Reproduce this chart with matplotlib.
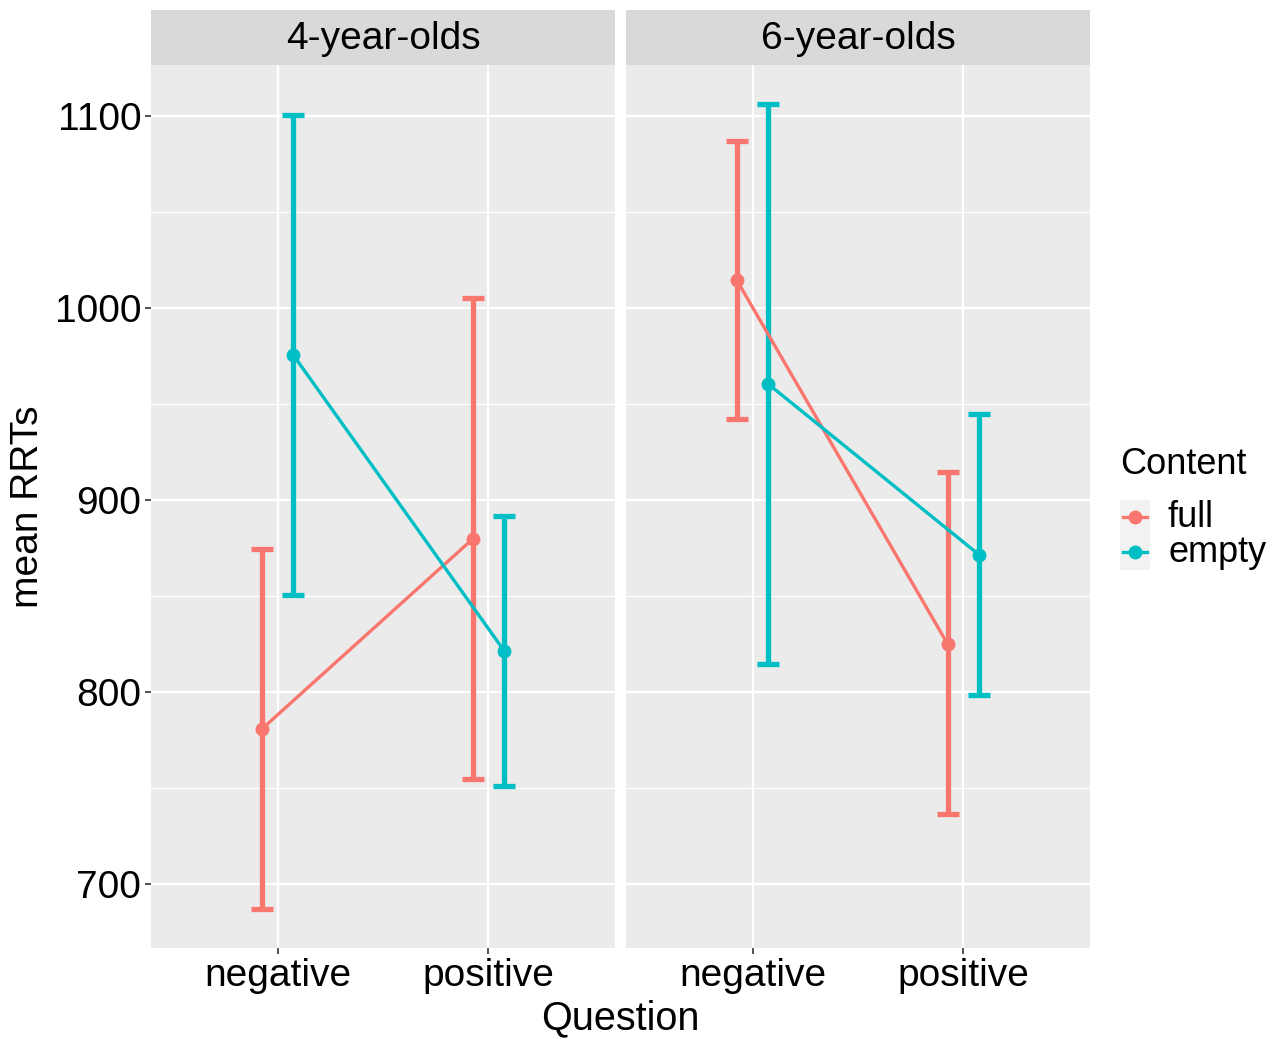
import matplotlib.pyplot as plt
from matplotlib.lines import Line2D
from matplotlib.patches import Rectangle

plt.rcParams['font.family'] = ['Liberation Sans', 'DejaVu Sans']

# mean RRTs with error bar limits, per age group
groups = ['4-year-olds', '6-year-olds']
questions = ['negative', 'positive']
contents = ['full', 'empty']
colors = {'full': '#F8766D', 'empty': '#00BFC4'}

means = {
    '4-year-olds': {'full': [780.7, 879.7], 'empty': [975.5, 821.4]},
    '6-year-olds': {'full': [1014.6, 825.0], 'empty': [960.4, 871.4]},
}
lower = {
    '4-year-olds': {'full': [687.0, 754.7], 'empty': [850.5, 751.0]},
    '6-year-olds': {'full': [942.2, 736.5], 'empty': [814.6, 798.4]},
}
upper = {
    '4-year-olds': {'full': [874.5, 1005.2], 'empty': [1100.5, 891.7]},
    '6-year-olds': {'full': [1087.0, 914.6], 'empty': [1106.2, 944.8]},
}

W, H = 1279, 1039
fig = plt.figure(figsize=(W / 100, H / 100), dpi=100)

dodge = {'full': -0.075, 'empty': 0.075}
panel_left = [151, 626]
panel_w = 464
top, bottom = 65, 948

for gi, g in enumerate(groups):
    ax = fig.add_axes([panel_left[gi] / W, (H - bottom) / H, panel_w / W, (bottom - top) / H])
    ax.set_facecolor('#EBEBEB')
    for s in ax.spines.values():
        s.set_visible(False)
    ax.set_xlim(0.4, 2.6)
    ax.set_ylim(666.7, 1126.6)
    ax.set_yticks([700, 800, 900, 1000, 1100])
    ax.set_yticks([750, 850, 950, 1050], minor=True)
    ax.set_xticks([1, 2])
    ax.set_xticklabels(questions)
    ax.grid(True, which='major', color='white', lw=1.6)
    ax.grid(True, which='minor', axis='y', color='white', lw=0.8)
    ax.set_axisbelow(True)
    ax.tick_params(axis='both', which='major', labelsize=28, length=4, width=1.2,
                   color='#333333', labelcolor='black', pad=3)
    ax.tick_params(axis='y', which='minor', length=0)
    if gi == 0:
        ax.set_yticklabels(['700', '800', '900', '1000', '1100'])
        ax.set_ylabel('mean RRTs', fontsize=28, labelpad=6)
    else:
        ax.tick_params(axis='y', labelleft=False, length=0)

    for c in contents:
        xs = [1 + dodge[c], 2 + dodge[c]]
        m = means[g][c]
        lo = [mi - li for mi, li in zip(m, lower[g][c])]
        hi = [ui - mi for mi, ui in zip(m, upper[g][c])]
        ax.errorbar(xs, m, yerr=[lo, hi], fmt='none', ecolor=colors[c],
                    elinewidth=3.8, capsize=7.6, capthick=3.8, zorder=3)
        ax.plot(xs, m, color=colors[c], lw=2.4, marker='o', ms=9, zorder=4)

    # facet strip
    sax = fig.add_axes([panel_left[gi] / W, (H - top) / H, panel_w / W, 55 / H])
    sax.set_facecolor('#D9D9D9')
    sax.set_xticks([])
    sax.set_yticks([])
    for s in sax.spines.values():
        s.set_visible(False)
    sax.text(0.5, 0.47, g, ha='center', va='center', fontsize=28, transform=sax.transAxes)

fig.text(620 / W, 1 - 1018 / H, 'Question', ha='center', va='center', fontsize=28.5)

# legend
fig.patches.append(Rectangle((1120 / W, 1 - 570 / H), 30 / W, 70 / H,
                             transform=fig.transFigure, facecolor='#F2F2F2',
                             edgecolor='none'))
fig.text(1120 / W, 1 - 465 / H, 'Content', ha='left', va='center', fontsize=26)
for i, c in enumerate(contents):
    y = 1 - (517 + i * 35) / H
    fig.lines.append(Line2D([1123 / W, 1147 / W], [y, y], transform=fig.transFigure,
                            color=colors[c], lw=2.4))
    fig.lines.append(Line2D([1135 / W], [y], transform=fig.transFigure,
                            color=colors[c], marker='o', ms=9))
    fig.text(1168 / W, y, c, ha='left', va='center', fontsize=26)

fig.savefig('out.png', dpi=100, facecolor='white')
